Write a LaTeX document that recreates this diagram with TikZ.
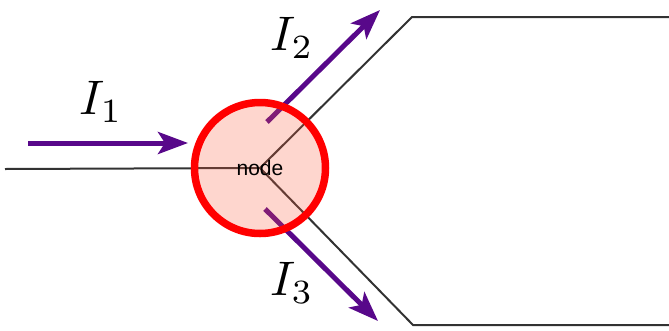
\documentclass[tikz,border=0pt]{standalone}
\usepackage{graphicx}
\usepackage{fontspec}
\newfontfamily\helv{Liberation Sans}
\usetikzlibrary{arrows.meta}
\definecolor{curpurple}{RGB}{88,8,138}
\definecolor{nodefill}{RGB}{250,90,60}
\definecolor{wiregray}{RGB}{50,50,50}
\newcommand{\biglabel}[1]{\scalebox{4.85}{#1}}
\tikzset{
  wire/.style={draw=wiregray, line width=2pt},
  current/.style={draw=curpurple, line width=5pt, -{Stealth[length=30pt,width=22pt,inset=7pt]}},
  curlabel/.style={inner sep=0pt},
  junction/.style={circle, draw=red, line width=7.5pt, fill=nodefill, fill opacity=0.25, text opacity=1,
    minimum size=131pt, inner sep=0pt, font=\helv\fontsize{21}{23}\selectfont}
}
\begin{document}
\begin{tikzpicture}[x=1pt,y=-1pt]
\useasboundingbox (0,0) rectangle (669,330);
% coordinates
\coordinate (c) at (260,168);
\coordinate (win) at (5,169);
\coordinate (bu) at (412,17);
\coordinate (eu) at (669,17);
\coordinate (bl) at (413,325);
\coordinate (el) at (669,325);
\coordinate (a1s) at (28,143);
\coordinate (a1e) at (188,143);
\coordinate (a2s) at (267,122);
\coordinate (a2e) at (380,10);
\coordinate (a3s) at (265,209);
\coordinate (a3e) at (378,321);
% wires
\draw[wire] (win) -- (c);
\draw[wire] (c) -- (bu) -- (eu);
\draw[wire] (c) -- (bl) -- (el);
% currents
\draw[current] (a1s) -- (a1e);
\draw[current] (a2s) -- (a2e);
\draw[current] (a3s) -- (a3e);
% junction
\node[junction] (n) at (c) {node};
% labels
\node[curlabel] (l1) at (101,102) {\biglabel{$I_1$}};
\node[curlabel] (l2) at (292,38) {\biglabel{$I_2$}};
\node[curlabel] (l3) at (292,283) {\biglabel{$I_3$}};
\end{tikzpicture}
\end{document}
